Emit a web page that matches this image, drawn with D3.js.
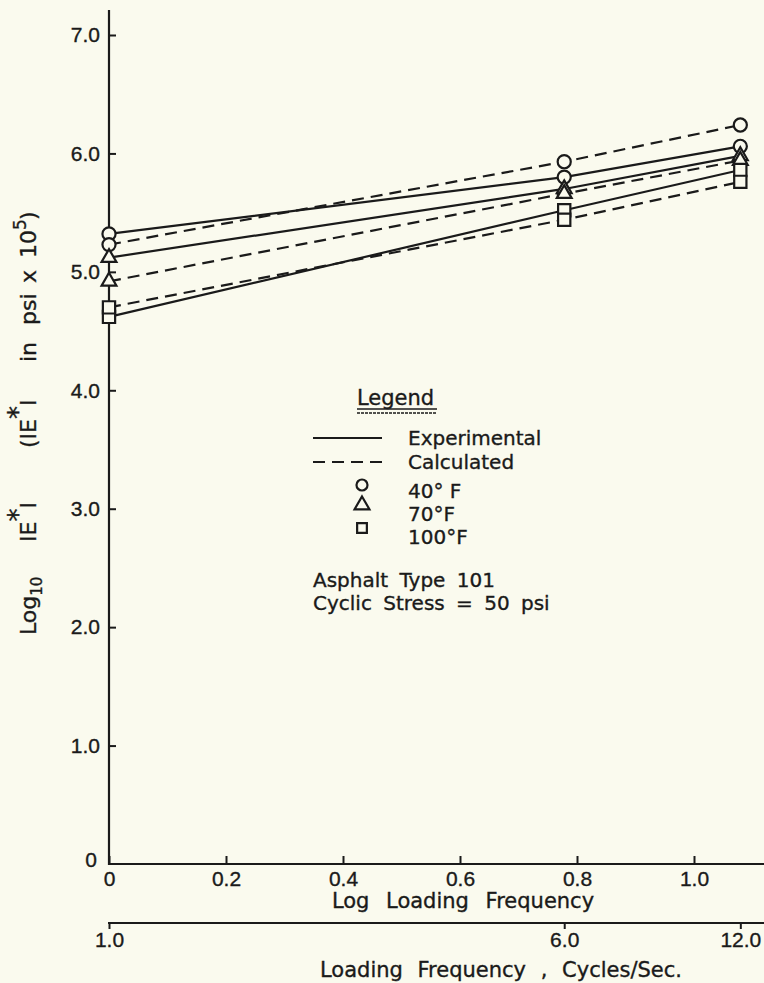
<!DOCTYPE html>
<html>
<head>
<meta charset="utf-8">
<script src="https://cdn.jsdelivr.net/npm/d3@7"></script>
<style>
  body { margin: 0; background: #fafaee; }
  svg { display: block; font-family: "DejaVu Sans", sans-serif; }
  svg text { stroke: #1a1a1a; stroke-width: 0.35px; }
</style>
</head>
<body>
<svg id="chart" width="764" height="983"></svg>
<script>
// loading frequencies (cycles/sec) where the points were measured
const freqs = [1, 6, 12];

// log10 |E*| values at each frequency
const exp40 = [5.32, 5.80, 6.06];
const calc40 = [5.23, 5.93, 6.24];
const exp70 = [5.12, 5.70, 5.98];
const calc70 = [4.92, 5.66, 5.94];
const exp100 = [4.62, 5.52, 5.86];
const calc100 = [4.70, 5.44, 5.76];

const yTicks = [0, 1, 2, 3, 4, 5, 6, 7];
const yTickLabels = ["0", "1.0", "2.0", "3.0", "4.0", "5.0", "6.0", "7.0"];
const xTicks = [0, 0.2, 0.4, 0.6, 0.8, 1.0];
const xTickLabels = ["0", "0.2", "0.4", "0.6", "0.8", "1.0"];
const freqTicks = [1, 6, 12];
const freqTickLabels = ["1.0", "6.0", "12.0"];

const series = [
    {values: exp40, marker: "circle", dashed: false},
    {values: calc40, marker: "circle", dashed: true},
    {values: exp70, marker: "triangle", dashed: false},
    {values: calc70, marker: "triangle", dashed: true},
    {values: exp100, marker: "square", dashed: false},
    {values: calc100, marker: "square", dashed: true}
];

const ink = "#1a1a1a";
const svg = d3.select("#chart");

let x = d3.scaleLinear().domain([0, 1]).range([109, 694]);
let y = d3.scaleLinear().domain([0, 7]).range([864, 35]);

// y axis
let yAxis = svg.append("g")
    .attr("transform", "translate(109,0)")
    .call(d3.axisLeft(y).tickValues(yTicks)
        .tickFormat((d, i) => yTickLabels[i])
        .tickSize(-7).tickSizeOuter(0).tickPadding(9));
yAxis.select(".domain").remove();
yAxis.selectAll("text").attr("font-size", 21).attr("fill", ink);
yAxis.selectAll("line").attr("stroke", ink).attr("stroke-width", 2);
yAxis.selectAll(".tick").filter(d => d === 0).select("line").remove();
yAxis.selectAll(".tick").filter(d => d === 0).select("text").attr("dy", "0.1em").attr("x", -12);

svg.append("line")
    .attr("x1", 109).attr("x2", 109).attr("y1", 10).attr("y2", 865)
    .attr("stroke", ink).attr("stroke-width", 2.2);

// log frequency axis
let xAxis = svg.append("g")
    .attr("transform", "translate(0,864)")
    .call(d3.axisBottom(x).tickValues(xTicks)
        .tickFormat((d, i) => xTickLabels[i])
        .tickSize(-8).tickSizeOuter(0).tickPadding(7));
xAxis.select(".domain").remove();
xAxis.selectAll("text").attr("font-size", 21).attr("fill", ink);
xAxis.selectAll("line").attr("stroke", ink).attr("stroke-width", 2);

svg.append("line")
    .attr("x1", 108).attr("x2", 764).attr("y1", 864).attr("y2", 864)
    .attr("stroke", ink).attr("stroke-width", 2.2);

// frequency axis (log positions)
let fAxis = svg.append("g")
    .attr("transform", "translate(0,923)")
    .call(d3.axisBottom(x).tickValues(freqTicks.map(f => Math.log10(f)))
        .tickFormat((d, i) => freqTickLabels[i])
        .tickSize(6).tickSizeOuter(0).tickPadding(3));
fAxis.select(".domain").remove();
fAxis.selectAll("text").attr("font-size", 21).attr("fill", ink);
fAxis.selectAll("line").attr("stroke", ink).attr("stroke-width", 2);

svg.append("line")
    .attr("x1", 108).attr("x2", 764).attr("y1", 923).attr("y2", 923)
    .attr("stroke", ink).attr("stroke-width", 2.2);

// axis titles
svg.append("text")
    .attr("x", 463).attr("y", 908)
    .attr("text-anchor", "middle").attr("font-size", 21)
    .attr("word-spacing", 10).attr("fill", ink)
    .text("Log Loading Frequency");

svg.append("text")
    .attr("x", 501).attr("y", 977)
    .attr("text-anchor", "middle").attr("font-size", 21)
    .attr("word-spacing", 8).attr("fill", ink)
    .text("Loading Frequency , Cycles/Sec.");

let yTitle = svg.append("text")
    .attr("transform", "translate(36,0) rotate(-90)")
    .attr("font-size", 22).attr("fill", ink);
yTitle.append("tspan").attr("x", -635).text("Log");
yTitle.append("tspan").attr("dy", 6).attr("font-size", 15).text("10");
yTitle.append("tspan").attr("x", -542).attr("dy", -6).text("IE");
yTitle.append("tspan").attr("dy", -9).attr("font-size", 26).text("*");
yTitle.append("tspan").attr("dy", 9).text("I");
yTitle.append("tspan").attr("x", -448).text("(IE");
yTitle.append("tspan").attr("dy", -9).attr("font-size", 26).text("*");
yTitle.append("tspan").attr("dy", 9).text("I");
yTitle.append("tspan").attr("x", -362).text("in");
yTitle.append("tspan").attr("x", -325).text("psi");
yTitle.append("tspan").attr("x", -283).text("x");
yTitle.append("tspan").attr("x", -258).text("10");
yTitle.append("tspan").attr("dy", -10).attr("font-size", 17).text("5");
yTitle.append("tspan").attr("x", -220).attr("dy", 10).text(")");

// data lines
let line = d3.line()
    .x((d, i) => x(Math.log10(freqs[i])))
    .y(d => y(d));

svg.append("g").selectAll("path")
    .data(series)
    .join("path")
    .attr("d", d => line(d.values))
    .attr("fill", "none")
    .attr("stroke", ink)
    .attr("stroke-width", 2.2)
    .attr("stroke-dasharray", d => d.dashed ? "12,7" : null);

// markers
const symbolType = {circle: d3.symbolCircle, triangle: d3.symbolTriangle, square: d3.symbolSquare};
const symbolSize = {circle: 135, triangle: 95, square: 150};

series.forEach(s => {
    svg.append("g").selectAll("path")
        .data(s.values)
        .join("path")
        .attr("transform", (d, i) => `translate(${x(Math.log10(freqs[i]))},${y(d)})`)
        .attr("d", d3.symbol(symbolType[s.marker], symbolSize[s.marker])())
        .attr("fill", "#fafaee")
        .attr("stroke", ink)
        .attr("stroke-width", 2.2);
});

// legend
let legend = svg.append("g").attr("fill", ink);
legend.append("text").attr("x", 357).attr("y", 405)
    .attr("font-size", 21).text("Legend");
legend.append("line").attr("x1", 357).attr("x2", 437).attr("y1", 409).attr("y2", 409)
    .attr("stroke", ink).attr("stroke-width", 1.6);
legend.append("line").attr("x1", 357).attr("x2", 437).attr("y1", 413).attr("y2", 413)
    .attr("stroke", ink).attr("stroke-width", 1.6).attr("stroke-dasharray", "3,1");

legend.append("line").attr("x1", 313).attr("x2", 382).attr("y1", 438).attr("y2", 438)
    .attr("stroke", ink).attr("stroke-width", 2.2);
legend.append("text").attr("x", 408).attr("y", 445).attr("font-size", 20).text("Experimental");
legend.append("line").attr("x1", 313).attr("x2", 382).attr("y1", 462).attr("y2", 462)
    .attr("stroke", ink).attr("stroke-width", 2.2).attr("stroke-dasharray", "12,7");
legend.append("text").attr("x", 408).attr("y", 469).attr("font-size", 20).text("Calculated");

const legendMarks = [
    {marker: "circle", label: "40° F", ys: 485, yt: 498},
    {marker: "triangle", label: "70°F", ys: 505, yt: 521},
    {marker: "square", label: "100°F", ys: 528, yt: 544}
];
legendMarks.forEach(m => {
    legend.append("path")
        .attr("transform", `translate(362,${m.ys})`)
        .attr("d", d3.symbol(symbolType[m.marker], 95)())
        .attr("fill", "none").attr("stroke", ink).attr("stroke-width", 2.2);
    legend.append("text").attr("x", 408).attr("y", m.yt).attr("font-size", 20).text(m.label);
});

legend.append("text").attr("x", 313).attr("y", 587).attr("font-size", 20)
    .attr("word-spacing", 5).text("Asphalt Type 101");
legend.append("text").attr("x", 313).attr("y", 610).attr("font-size", 20)
    .attr("word-spacing", 5).text("Cyclic Stress = 50 psi");
</script>
</body>
</html>
